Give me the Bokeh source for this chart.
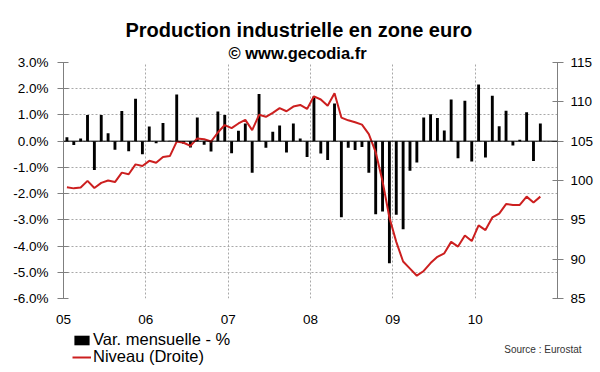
from bokeh.plotting import figure
from bokeh.layouts import column
from bokeh.models import (Range1d, LinearAxis, FixedTicker, PrintfTickFormatter, Span,
                          Label, Legend, LegendItem, ColumnDataSource, Title)
from bokeh.embed import file_html
from bokeh.resources import INLINE

# ---- data: monthly, Jan 2005 .. Oct 2010 ----
months = list(range(70))
var_mensuelle = [
    0.15, -0.15, 0.10, 1.00, -1.10, 1.00, 0.30, -0.33, 1.15, -0.38, 1.62, -0.50,   # 2005
    0.56, -0.08, 0.69, 0.02, 1.78, -0.10, -0.24, 0.90, -0.14, -0.39, 1.13, 1.00,   # 2006
    -0.46, 0.40, 0.67, -1.20, 1.80, -0.25, 0.36, 0.60, -0.43, 0.67, 0.10, -0.60,   # 2007
    1.70, -0.47, -0.72, 1.44, -2.90, -0.25, -0.34, -0.22, -1.20, -2.79, -2.68, -4.66,  # 2008
    -2.81, -3.36, -1.13, -0.81, 0.90, 1.03, 0.88, 0.41, 1.59, -0.65, 1.54, -0.78,  # 2009
    2.16, -0.62, 1.73, 0.57, 1.16, -0.17, 0.05, 1.10, -0.76, 0.67,                 # 2010
]
niveau = [
    99.15, 99.0, 99.1, 99.95, 99.05, 99.7, 100.0, 99.8, 101.0, 100.8, 102.05, 101.85,  # 2005
    102.5, 102.25, 103.0, 103.1, 104.95, 104.8, 104.4, 105.35, 105.25, 104.95, 106.1, 107.05,  # 2006
    106.65, 107.25, 107.7, 106.4, 108.35, 108.1, 108.6, 109.2, 108.8, 109.4, 109.6, 109.1,  # 2007
    110.7, 110.3, 109.5, 111.1, 108.0, 107.65, 107.4, 107.1, 105.9, 103.6, 99.9, 95.3,  # 2008
    92.2, 89.7, 88.8, 87.9, 88.5, 89.5, 90.3, 90.75, 92.2, 91.6, 93.0, 92.3,  # 2009
    94.3, 93.7, 95.3, 95.8, 97.0, 96.9, 96.9, 97.95, 97.2, 97.95,  # 2010
]
year_ticks = [0, 12, 24, 36, 48, 60]
year_labels = ["05", "06", "07", "08", "09", "10"]
left_ticks = [-6, -5, -4, -3, -2, -1, 0, 1, 2, 3]
right_ticks = [85, 90, 95, 100, 105, 110, 115]

FONT = "Liberation Sans"
AXIS_GRAY = "#7f7f7f"
RED = "#cc1f1f"
W = 596

src = ColumnDataSource(dict(x=[m + 0.5 for m in months], var=var_mensuelle, lvl=niveau))

# ---------------- main chart ----------------
p = figure(width=W, height=328, x_range=Range1d(0, 72), y_range=Range1d(-6, 3),
           output_backend="svg", toolbar_location=None, title=None,
           min_border_left=63, min_border_right=38, min_border_top=62, min_border_bottom=30)
p.outline_line_color = None
p.background_fill_color = "white"
p.border_fill_color = "white"
p.extra_y_ranges = {"lvl": Range1d(85, 115)}

# titles (first added = closest to the plot)
p.add_layout(Title(text="© www.gecodia.fr", align="left", offset=165,
                   text_font=FONT, text_font_size="16.5px", text_font_style="bold",
                   text_color="black", standoff=1), "above")
p.add_layout(Title(text="Production industrielle en zone euro", align="left", offset=62,
                   text_font=FONT, text_font_size="20px", text_font_style="bold",
                   text_color="black", standoff=2), "above")

# grids
p.xgrid.ticker = FixedTicker(ticks=year_ticks[1:])
p.ygrid.ticker = FixedTicker(ticks=left_ticks)
for g in (p.xgrid[0], p.ygrid[0]):
    g.grid_line_color = "#a8a8a8"
    g.grid_line_dash = "2 2"
    g.grid_line_width = 1

# x axis
xa = p.xaxis[0]
xa.ticker = FixedTicker(ticks=year_ticks)
xa.major_label_overrides = {t: l for t, l in zip(year_ticks, year_labels)}
xa.axis_line_color = None
xa.major_tick_line_color = None
xa.minor_tick_line_color = None
xa.major_label_standoff = 10
xa.major_label_text_font = FONT
xa.major_label_text_font_size = "13.5px"
xa.major_label_text_color = "black"

# left axis
ya = p.yaxis[0]
ya.ticker = FixedTicker(ticks=left_ticks)
ya.formatter = PrintfTickFormatter(format="%.1f%%")
ya.axis_line_color = AXIS_GRAY
ya.major_tick_line_color = AXIS_GRAY
ya.minor_tick_line_color = None
ya.major_tick_in = 5
ya.major_tick_out = 6
ya.major_label_standoff = 9
ya.major_label_text_font = FONT
ya.major_label_text_font_size = "13.5px"
ya.major_label_text_color = "black"

# right axis
ra = LinearAxis(y_range_name="lvl", ticker=FixedTicker(ticks=right_ticks))
ra.axis_line_color = AXIS_GRAY
ra.major_tick_line_color = AXIS_GRAY
ra.minor_tick_line_color = None
ra.major_tick_in = 5
ra.major_tick_out = 6
ra.major_label_standoff = 7
ra.major_label_text_font = FONT
ra.major_label_text_font_size = "13.5px"
ra.major_label_text_color = "black"
p.add_layout(ra, "right")

# zero line
p.add_layout(Span(location=0, dimension="width", line_color="black", line_width=1))

bars = p.vbar(x="x", top="var", bottom=0, width=0.42, source=src,
              fill_color="black", line_color=None)
line = p.line(x="x", y="lvl", y_range_name="lvl", source=src, line_color=RED, line_width=2)

# ---------------- bottom strip: legend + source ----------------
HB = 40
pb = figure(width=W, height=HB, x_range=Range1d(0, W), y_range=Range1d(HB, 0),
            output_backend="svg", toolbar_location=None, title=None,
            x_axis_type=None, y_axis_type=None,
            min_border_left=0, min_border_right=0, min_border_top=0, min_border_bottom=0)
pb.outline_line_color = None
pb.background_fill_color = "white"
pb.border_fill_color = "white"
for fig in (p, pb):
    if hasattr(fig, "frame_align"):
        fig.frame_align = False

# hidden copies of the two series, used only as legend keys
key_bar = pb.vbar(x="x", top="var", bottom=0, width=0.42, source=src,
                  fill_color="black", line_color=None, visible=False)
key_line = pb.line(x="x", y="lvl", source=src, line_color=RED, line_width=2, visible=False)


def mk_legend(label, r, vy):
    lg = Legend(items=[LegendItem(label=label, renderers=[r])], location=(72, vy),
                orientation="vertical", padding=0, margin=0, spacing=0,
                glyph_width=19, glyph_height=12, label_standoff=2,
                label_text_font=FONT, label_text_font_size="16.5px",
                label_text_color="black",
                border_line_color=None, background_fill_alpha=0)
    pb.add_layout(lg)


mk_legend("Var. mensuelle - %", key_bar, 19)
mk_legend("Niveau (Droite)", key_line, 2)

pb.add_layout(Label(x=581, y=21, text="Source : Eurostat",
                    text_align="right", text_baseline="alphabetic",
                    text_font=FONT, text_font_size="10px", text_color="#333333"))

layout = column(p, pb, spacing=0)
open("out.html", "w").write(file_html(layout, INLINE))
